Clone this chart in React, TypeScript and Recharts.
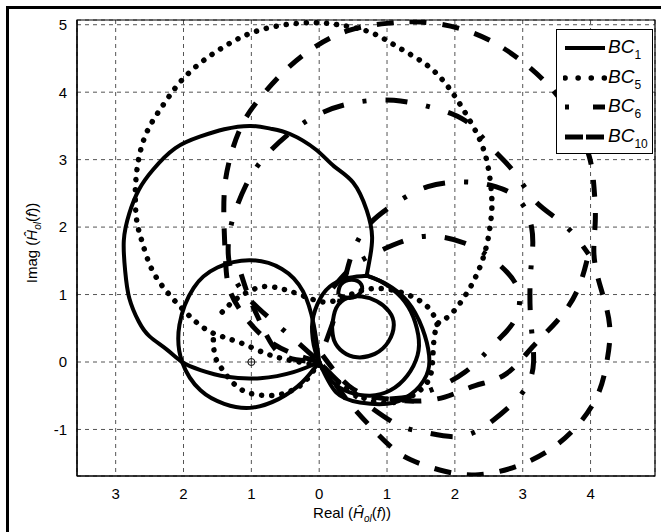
import { CartesianGrid, ComposedChart, Line, ReferenceArea, Scatter, XAxis, YAxis } from "recharts";

type P = [number, number];

const xTicks = [-3, -2, -1, 0, 1, 2, 3, 4];
const yTicks = [-1, 0, 1, 2, 3, 4, 5];
const xDomain: [number, number] = [-3.57, 4.95];
const yDomain: [number, number] = [-1.69, 5.07];

// BC1, solid
const bc1Big: P[] = [[0, 0], [-0.38, -0.15], [-0.87, -0.24], [-1.36, -0.22], [-1.75, -0.12], [-2.02, 0], [-2.24, 0.18], [-2.5, 0.38], [-2.66, 0.6], [-2.8, 0.95], [-2.86, 1.35], [-2.88, 1.8], [-2.8, 2.2], [-2.66, 2.55], [-2.45, 2.85], [-2.12, 3.17], [-1.76, 3.34], [-1.4, 3.45], [-1.02, 3.5], [-0.72, 3.46], [-0.43, 3.38], [-0.05, 3.15], [0.22, 2.9], [0.5, 2.66], [0.7, 2.25], [0.78, 1.85], [0.74, 1.5], [0.7, 1.28]];
const bc1Small: P[] = [[0, 0], [-0.08, 0.55], [-0.24, 1.05], [-0.55, 1.38], [-1.02, 1.51], [-1.5, 1.4], [-1.85, 1.1], [-2.06, 0.55], [-2.02, 0], [-1.75, -0.42], [-1.4, -0.62], [-1.02, -0.68], [-0.6, -0.55], [-0.25, -0.3], [0, 0]];
const bc1Loop: P[] = [[0.7, 1.28], [0.45, 1.25], [0.2, 1.15], [0.02, 0.95], [-0.1, 0.6], [-0.08, 0.25], [0, 0], [0.2, -0.3], [0.45, -0.45], [0.75, -0.5], [1.05, -0.42], [1.3, -0.2], [1.45, 0.1], [1.46, 0.4], [1.35, 0.75], [1.15, 1.02], [0.9, 1.2], [0.7, 1.28]];
const bc1Loop2: P[] = [[0, 0], [0.25, -0.45], [0.6, -0.6], [1.0, -0.62], [1.35, -0.48], [1.58, -0.2], [1.62, 0.1], [1.52, 0.5], [1.3, 0.9], [1.0, 1.15], [0.7, 1.28]];
const bc1Inner: P[] = [[0.19, 0.52], [0.25, 0.8], [0.42, 0.95], [0.63, 0.97], [0.85, 0.9], [1.03, 0.75], [1.1, 0.55], [1.02, 0.3], [0.82, 0.12], [0.56, 0.07], [0.35, 0.15], [0.22, 0.32], [0.19, 0.52]];
const bc1Tiny: P[] = [[0.28, 1.0], [0.32, 1.15], [0.48, 1.22], [0.62, 1.15], [0.6, 1.02], [0.45, 0.95], [0.28, 1.0]];

// BC5, dotted
const bc5Big: P[] = [[0, -0.05], [-0.4, 0.02], [-0.77, 0.12], [-1.2, 0.3], [-1.61, 0.45], [-1.93, 0.7], [-2.21, 1.0], [-2.46, 1.36], [-2.61, 1.78], [-2.69, 2.1], [-2.71, 2.52], [-2.67, 2.96], [-2.54, 3.41], [-2.3, 3.81], [-2.05, 4.15], [-1.73, 4.45], [-1.36, 4.7], [-0.97, 4.89], [-0.5, 5.0], [-0.03, 5.03], [0.4, 4.98], [0.8, 4.87], [1.19, 4.65], [1.59, 4.4], [1.9, 4.08], [2.15, 3.7], [2.37, 3.29], [2.49, 2.89], [2.54, 2.5], [2.54, 2.2], [2.48, 1.78], [2.35, 1.36], [2.15, 0.98], [1.9, 0.67], [1.74, 0.55], [1.68, 0.18], [1.64, -0.2], [1.45, -0.45], [1.1, -0.6], [0.7, -0.55], [0.35, -0.35], [0, -0.05]];
const bc5Inner: P[] = [[-1.56, 0.33], [-1.53, 0.07], [-1.42, -0.12], [-1.28, -0.3], [-1.09, -0.44], [-0.87, -0.49], [-0.62, -0.49], [-0.4, -0.42], [-0.2, -0.28], [0, 0]];
const bc5Upper: P[] = [[-1.43, 0.74], [-1.2, 0.95], [-0.87, 1.11], [-0.62, 1.1], [-0.4, 1.04], [-0.1, 0.93], [0.2, 0.9], [0.6, 1.05], [1.0, 1.08], [1.39, 0.96], [1.64, 0.77], [1.74, 0.55]];

// BC6, dash-dot
const bc6Outer: P[] = [[-0.05, 0.05], [-0.5, 0.45], [-0.9, 0.8], [-1.2, 1.15], [-1.33, 1.5], [-1.33, 1.85], [-1.25, 2.2], [-1.08, 2.62], [-0.82, 3.02], [-0.4, 3.42], [0.05, 3.7], [0.55, 3.85], [1.1, 3.88], [1.64, 3.78], [2.15, 3.58], [2.5, 3.22], [2.87, 2.82], [3.2, 2.37], [3.62, 2.03], [3.97, 1.6]];
const bc6Mid: P[] = [[0.1, 0.3], [0.3, 0.9], [0.45, 1.5], [0.7, 2.0], [1.12, 2.35], [1.6, 2.6], [2.15, 2.67], [2.6, 2.6], [2.95, 2.4], [3.13, 2.0], [3.14, 1.6], [3.11, 1.2], [3.12, 0.6], [3.16, 0], [3.0, -0.45], [2.57, -0.86], [2.1, -1.1], [1.59, -1.05], [1.2, -0.95], [0.8, -0.7], [0.35, -0.35], [0, 0]];
const bc6Inner: P[] = [[0.2, 1.1], [0.5, 1.42], [0.8, 1.6], [1.08, 1.73], [1.45, 1.85], [1.83, 1.85], [2.15, 1.76], [2.45, 1.6], [2.77, 1.33], [2.95, 1.0], [2.88, 0.62], [2.67, 0.36], [2.45, 0.13], [2.15, -0.15], [1.8, -0.35], [1.4, -0.5], [1.0, -0.55]];

// BC10, dashed
const bc10Outer: P[] = [[0, 0], [-0.45, 0.15], [-0.85, 0.4], [-1.15, 0.75], [-1.33, 1.1], [-1.38, 1.5], [-1.4, 1.95], [-1.4, 2.5], [-1.32, 3.0], [-1.12, 3.55], [-0.8, 4.0], [-0.45, 4.37], [-0.05, 4.68], [0.45, 4.92], [1.0, 5.02], [1.5, 5.04], [2.05, 4.95], [2.55, 4.75], [3.0, 4.45], [3.4, 4.08], [3.75, 3.6], [3.98, 3.05], [4.05, 2.6], [4.07, 2.1], [4.05, 1.6], [4.15, 1.1], [4.28, 0.55], [4.24, 0], [4.1, -0.5], [3.8, -0.95], [3.4, -1.3], [2.9, -1.55], [2.35, -1.67], [1.85, -1.62], [1.35, -1.45], [1.05, -1.25], [0.75, -0.95], [0.4, -0.55], [0.05, -0.05]];
const bc10Inner: P[] = [[0.05, 0.1], [0.5, -0.4], [1.0, -0.55], [1.4, -0.58], [1.85, -0.52], [2.3, -0.35], [2.75, -0.18], [3.15, 0.23], [3.5, 0.6], [3.8, 1.05], [3.97, 1.6]];
const bc10Left: P[] = [[-1.15, 1.3], [-1.05, 1.0], [-0.92, 0.7], [-0.75, 0.35], [-0.5, 0.08], [0, 0]];

const origin = [{ x: -1, y: 0 }];

const pts = (a: P[]) => a.map(([x, y]) => ({ x, y }));

type St = { dash?: string; width: number; cap?: "round" | "butt" };
const styles: Record<string, St> = {
  bc1: { width: 4 },
  bc5: { dash: "0.1 10", width: 5.5, cap: "round" },
  bc6: { dash: "22 19 4 19", width: 5 },
  bc10: { dash: "17 16", width: 5 },
};

const seriesParts: { key: string; parts: P[][] }[] = [
  { key: "bc1", parts: [bc1Big, bc1Small, bc1Loop, bc1Loop2, bc1Inner, bc1Tiny] },
  { key: "bc5", parts: [bc5Big, bc5Inner, bc5Upper] },
  { key: "bc6", parts: [bc6Outer, bc6Mid, bc6Inner] },
  { key: "bc10", parts: [bc10Outer, bc10Inner, bc10Left] },
];

const legendItems = [
  { key: "bc1", sub: "1", dash: undefined as string | undefined },
  { key: "bc5", sub: "5", dash: "0.1 13" },
  { key: "bc6", sub: "6", dash: "4 24 12 40" },
  { key: "bc10", sub: "10", dash: "18 3" },
];

const font = "'Liberation Sans', Arial, Helvetica, sans-serif";

function OriginMark(props: { cx?: number; cy?: number }) {
  const { cx = 0, cy = 0 } = props;
  return (
    <g>
      <circle cx={cx} cy={cy} r={3.5} fill="#fff" stroke="#000" strokeWidth={1} />
      <line x1={cx - 3.5} x2={cx + 3.5} y1={cy} y2={cy} stroke="#000" strokeWidth={0.8} />
      <line x1={cx} x2={cx} y1={cy - 3.5} y2={cy + 3.5} stroke="#000" strokeWidth={0.8} />
    </g>
  );
}

function HatH() {
  return (
    <>
      (<i>Ĥ</i>
      <sub style={{ fontSize: 10, fontStyle: "italic" }}>ol</sub>(<i>f</i>))
    </>
  );
}

export default function App() {
  return (
    <div style={{ position: "absolute", left: 0, top: 0, width: 661, height: 532, background: "#fff", overflow: "hidden", fontFamily: font }}>
      <ComposedChart width={661} height={532} margin={{ top: 20, right: 6, bottom: 16, left: 17 }}>
        <CartesianGrid stroke="#555" strokeDasharray="4 4" />
        <XAxis
          type="number"
          dataKey="x"
          domain={xDomain}
          ticks={xTicks}
          allowDataOverflow
          height={40}
          tickLine={false}
          tickSize={4}
          tickMargin={8}
          axisLine={{ stroke: "#000", strokeWidth: 1.2 }}
          tickFormatter={(v: number) => String(Math.abs(v))}
          tick={{ fontSize: 15, fill: "#000", fontFamily: font }}
        />
        <YAxis
          type="number"
          dataKey="y"
          domain={yDomain}
          ticks={yTicks}
          allowDataOverflow
          width={60}
          tickLine={false}
          tickSize={4}
          tickMargin={6}
          axisLine={{ stroke: "#000", strokeWidth: 1.2 }}
          tick={{ fontSize: 15, fill: "#000", fontFamily: font }}
        />
        <ReferenceArea x1={xDomain[0]} x2={xDomain[1]} y1={yDomain[0]} y2={yDomain[1]} fill="none" stroke="#000" strokeWidth={1.2} ifOverflow="visible" />
        {seriesParts.flatMap((s) =>
          s.parts.map((part, i) => {
            const st = styles[s.key];
            return (
              <Line
                key={`${s.key}-${i}`}
                data={pts(part)}
                dataKey="y"
                type="natural"
                stroke="#000"
                strokeWidth={st.width}
                strokeDasharray={st.dash}
                strokeLinecap={st.cap || "butt"}
                strokeLinejoin="round"
                dot={false}
                activeDot={false}
                isAnimationActive={false}
              />
            );
          })
        )}
        <Scatter data={origin} shape={<OriginMark />} isAnimationActive={false} />
      </ComposedChart>

      {/* legend */}
      <div style={{ position: "absolute", left: 556, top: 29, width: 95, height: 123, border: "1px solid #000", background: "#fff" }}>
        {legendItems.map((it, i) => {
          const st = styles[it.key];
          return (
            <div key={it.key} style={{ position: "absolute", left: 0, top: 4 + i * 29.5, height: 28, width: 95 }}>
              <svg width={44} height={28} style={{ position: "absolute", left: 6, top: 0 }}>
                <line x1={2} x2={42} y1={14} y2={14} stroke="#000" strokeWidth={st.width} strokeDasharray={it.dash} strokeLinecap={st.cap || "butt"} />
              </svg>
              <div style={{ position: "absolute", left: 51, top: 3, fontSize: 19, lineHeight: "20px", whiteSpace: "nowrap" }}>
                <i>BC</i>
                <sub style={{ fontSize: 12, verticalAlign: "-6px" }}>{it.sub}</sub>
              </div>
            </div>
          );
        })}
      </div>

      {/* axis titles */}
      <div style={{ position: "absolute", left: 252, top: 504, width: 200, textAlign: "center", fontSize: 15, whiteSpace: "nowrap" }}>
        Real <HatH />
      </div>
      <div style={{ position: "absolute", left: -67, top: 233, width: 200, height: 20, textAlign: "center", fontSize: 15, whiteSpace: "nowrap", transform: "rotate(-90deg)" }}>
        Imag <HatH />
      </div>

      {/* figure frame */}
      <div style={{ position: "absolute", left: 6, top: 6, width: 655, height: 3, background: "#000" }} />
      <div style={{ position: "absolute", left: 6, top: 6, width: 3, height: 526, background: "#000" }} />
    </div>
  );
}
